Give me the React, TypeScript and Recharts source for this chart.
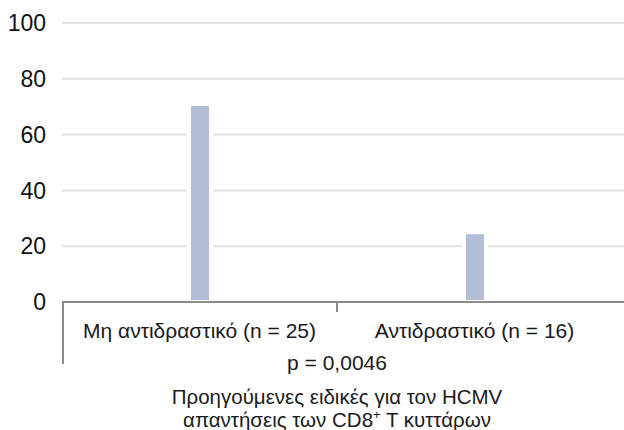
import { Bar, BarChart, CartesianGrid, XAxis, YAxis } from 'recharts';

const groups = ['Μη αντιδραστικό (n = 25)', 'Αντιδραστικό (n = 16)'];
const percent = [71, 25];
const yTicks = [0, 20, 40, 60, 80, 100];
const pValue = 'p = 0,0046';
const titleLine1 = 'Προηγούμενες ειδικές για τον HCMV';

const data = groups.map((group, i) => ({ group, percent: percent[i] }));

const FONT = '"Liberation Sans", Arial, sans-serif';
const AXIS_GREY = '#8a8a8a';

interface TickProps {
  x?: number;
  y?: number;
  payload?: { value: string; index: number; offset?: number };
}

// Category labels plus the framing lines and the footer text under the axis
function GroupTick({ x = 0, y = 0, payload }: TickProps) {
  if (!payload) return null;
  const half = payload.offset ?? 0;
  const first = payload.index === 0;
  const split = x + half;
  return (
    <g>
      <text
        x={x}
        y={y + 36}
        textAnchor="middle"
        fontSize={21}
        fontFamily={FONT}
        fill="#1a1a1a"
      >
        {payload.value}
      </text>
      {first && (
        <g>
          <line x1={x - half + 1} x2={x - half + 1} y1={y} y2={y + 62} stroke={AXIS_GREY} strokeWidth={2} />
          <line x1={split} x2={split} y1={y} y2={y + 10} stroke={AXIS_GREY} strokeWidth={2} />
          <text x={split} y={y + 68} textAnchor="middle" fontSize={21} fontFamily={FONT} fill="#1a1a1a">
            {pValue}
          </text>
          <text x={split} y={y + 102} textAnchor="middle" fontSize={20.5} fontFamily={FONT} fill="#1a1a1a">
            {titleLine1}
          </text>
          <text x={split} y={y + 125} textAnchor="middle" fontSize={20.5} fontFamily={FONT} fill="#1a1a1a">
            <tspan>απαντήσεις των CD8</tspan>
            <tspan dy={-8} fontSize={13}>+</tspan>
            <tspan dy={8}> T κυττάρων</tspan>
          </text>
        </g>
      )}
    </g>
  );
}

export default function App() {
  return (
    <div style={{ position: 'absolute', left: 0, top: 0, background: '#fff' }}>
      <BarChart
        width={624}
        height={430}
        data={data}
        margin={{ top: 23, right: 0, bottom: 0, left: 0 }}
      >
        <CartesianGrid vertical={false} stroke="#e2e2e2" strokeWidth={2} />
        <YAxis
          width={62}
          domain={[0, 100]}
          ticks={yTicks}
          axisLine={false}
          tickLine={false}
          tickMargin={10}
          tick={{ fontSize: 23, fill: '#111', fontFamily: FONT }}
        />
        <Bar
          dataKey="percent"
          fill="#b3bdd6"
          stroke="#fff"
          strokeWidth={4}
          barSize={22}
          isAnimationActive={false}
        />
        <XAxis
          dataKey="group"
          height={128}
          padding={{ left: 0, right: 12 }}
          tickSize={0}
          tickMargin={0}
          interval={0}
          axisLine={{ stroke: AXIS_GREY, strokeWidth: 2 }}
          tickLine={false}
          tick={<GroupTick />}
        />
      </BarChart>
    </div>
  );
}
